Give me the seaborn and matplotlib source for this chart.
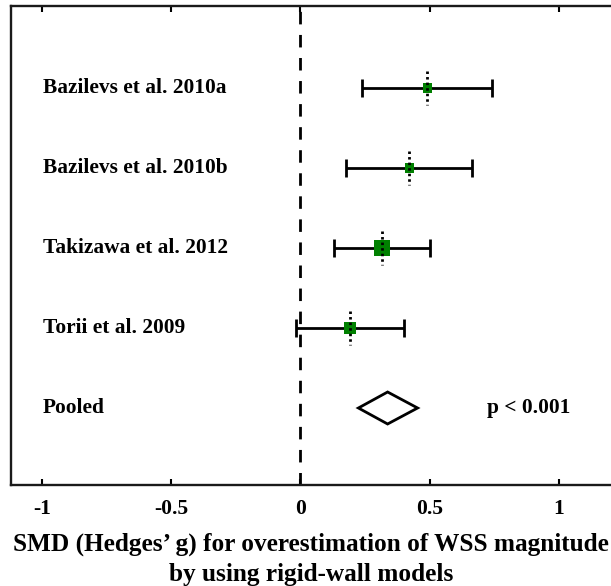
import matplotlib
matplotlib.use("Agg")
import matplotlib.pyplot as plt
import seaborn as sns
import pandas as pd
import numpy as np
from matplotlib.patches import Polygon

studies = ["Bazilevs et al. 2010a", "Bazilevs et al. 2010b", "Takizawa et al. 2012", "Torii et al. 2009"]
smd = [0.49, 0.421, 0.314, 0.191]
ci_low = [0.239, 0.176, 0.130, -0.017]
ci_high = [0.739, 0.665, 0.500, 0.400]
weights = [14.5, 14.5, 44.0, 27.0]

pooled_label = "Pooled"
pooled_smd = 0.337
pooled_low = 0.224
pooled_high = 0.453
p_text = "p < 0.001"

xticks = [-1, -0.5, 0, 0.5, 1]
xticklabels = ["-1", "-0.5", "0", "0.5", "1"]
xlabel = "SMD (Hedges\u2019 g) for overestimation of WSS magnitude\nby using rigid-wall models"

sns.set_theme(style="white")
plt.rcParams["font.family"] = ["Liberation Serif", "DejaVu Serif"]
plt.rcParams["font.weight"] = "bold"
plt.rcParams["text.color"] = "black"
plt.rcParams["axes.labelcolor"] = "black"

df = pd.DataFrame({"study": studies, "smd": smd, "lo": ci_low, "hi": ci_high,
                   "w": weights, "row": np.arange(1, len(studies) + 1)})
pooled_row = len(studies) + 1

fig = plt.figure(figsize=(6.11, 5.86), dpi=100)
W, H = 611, 586
x0_px, x1_data_px = 11, 300.5
ppu = 258.5
xmin = (x0_px - x1_data_px) / ppu
xmax = 1.25
right_px = x1_data_px + xmax * ppu
ax = fig.add_axes([x0_px / W, (H - 485) / H, (right_px - x0_px) / W, (485 - 6) / H])

ax.axvline(0, color="black", lw=2.0, linestyle=(0, (4.5, 3.8)), zorder=1)

ax.errorbar(df["smd"], df["row"], xerr=[df["smd"] - df["lo"], df["hi"] - df["smd"]],
            fmt="none", ecolor="black", elinewidth=2.0, capsize=6.3, capthick=2.0, zorder=2)

sns.scatterplot(data=df, x="smd", y="row", size="w", sizes=(43.5, 132), size_norm=(14.5, 44),
                marker="s", color="#008000", edgecolor="none", legend=False, ax=ax, zorder=3)

ax.vlines(df["smd"], df["row"] - 0.21, df["row"] + 0.21, colors="black", lw=2.0,
          linestyles=(0, (0.9, 1.1)), zorder=4)

diamond = Polygon([[pooled_low, pooled_row], [pooled_smd, pooled_row - 0.2],
                   [pooled_high, pooled_row], [pooled_smd, pooled_row + 0.2]],
                  closed=True, facecolor="white", edgecolor="black", lw=2.0, zorder=3)
ax.add_patch(diamond)

for r, name in zip(df["row"], df["study"]):
    ax.text(-0.996, r, name, ha="left", va="center", fontsize=15.4, fontweight="bold", color="black")
ax.text(-0.996, pooled_row, pooled_label, ha="left", va="center", fontsize=15.4, fontweight="bold", color="black")
ax.text(0.72, pooled_row, p_text, ha="left", va="center", fontsize=15.4, fontweight="bold", color="black")

ax.set_xlim(xmin, xmax)
ax.set_ylim(pooled_row + 0.9625, -0.025)
ax.set_yticks([])
ax.set_ylabel("")
ax.set_xticks(xticks)
ax.set_xticklabels(xticklabels, fontsize=15.5, fontweight="bold", color="black")
ax.tick_params(axis="x", direction="in", length=4, width=1.5, top=True, bottom=True, pad=10, colors="black")
for s in ax.spines.values():
    s.set_linewidth(1.7)
    s.set_color("#1a1a1a")
    s.set_visible(True)

ax.set_xlabel(xlabel, fontsize=18.2, fontweight="bold", linespacing=1.4, color="black")
ax.xaxis.set_label_coords((311 - x0_px) / (right_px - x0_px), -0.099, transform=ax.transAxes)
ax.xaxis.label.set_va("top")

fig.savefig("out.png", dpi=100)
